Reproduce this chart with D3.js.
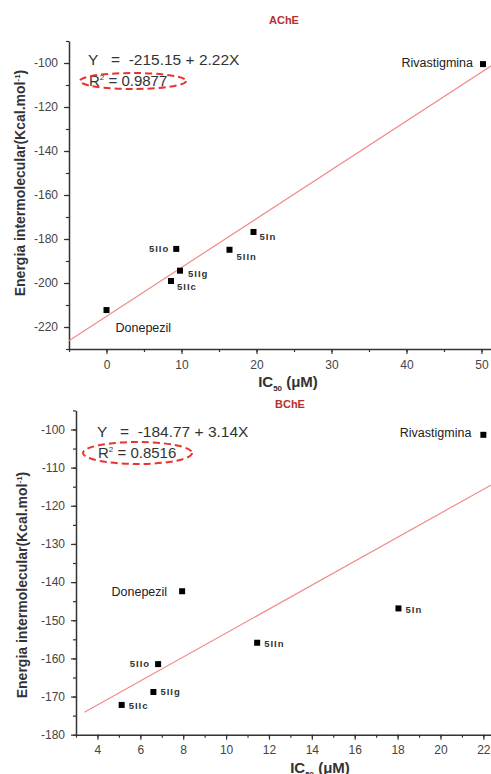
<!DOCTYPE html>
<html>
<head>
<meta charset="utf-8">
<style>
  body { margin: 0; background: #fff; }
  text { font-family: "Liberation Sans", Arial, sans-serif; }
</style>
</head>
<body>
<svg id="chart" width="491" height="774"></svg>

<script src="https://d3js.org/d3.v7.min.js"></script>
<script>
  // compounds, same order in both panels
  const names = ['Rivastigmina', 'Donepezil', '5IIo', '5IIn', '5In', '5IIg', '5IIc']

  // AChE panel
  const acheIC50 = [50.2, 0.0, 9.3, 16.4, 19.6, 9.8, 8.6]
  const acheEnergy = [-100.5, -212.3, -184.5, -184.9, -176.8, -194.4, -199.1]
  const acheFit = [-215.15, 2.22]   // intercept, slope
  const acheR2 = '0.9877'
  const acheXTicks = [0, 10, 20, 30, 40, 50]
  const acheYTicks = [-220, -200, -180, -160, -140, -120, -100]

  // BChE panel
  const bcheIC50 = [22.0, 7.95, 6.83, 11.45, 18.04, 6.61, 5.13]
  const bcheEnergy = [-101.4, -142.4, -161.5, -155.9, -146.9, -168.8, -172.2]
  const bcheFit = [-184.77, 3.14]
  const bcheR2 = '0.8516'
  const bcheXTicks = [4, 6, 8, 10, 12, 14, 16, 18, 20, 22]
  const bcheYTicks = [-180, -170, -160, -150, -140, -130, -120, -110, -100]

  const svg = d3.select('#chart')

  const panels = [
    {
      title: 'AChE', titleX: 284, titleY: 24,
      xs: acheIC50, ys: acheEnergy, fit: acheFit, r2: acheR2,
      xTicks: acheXTicks, yTicks: acheYTicks, xMinor: 5, yMinor: 10,
      xDomain: [-5, 52], xRange: [69, 496.5],
      yDomain: [-230, -90], yRange: [349, 41],
      fitFrom: -5,
      eqX: 88, eqY: 65, r2Y: 86, ell: [133, 81, 53, 8],
      xLabelX: 288, xLabelY: 387,
      yLabelX: 20, yLabelY: 183, yLabelLen: 229,
      // label placement per compound: [anchor, dx, dy]
      offs: [['end', -10, -1], ['start', 9, 18], ['end', -7, 0], ['start', 7, 7],
             ['start', 6, 5], ['start', 8, 3], ['start', 6, 6]]
    },
    {
      title: 'BChE', titleX: 290, titleY: 408,
      xs: bcheIC50, ys: bcheEnergy, fit: bcheFit, r2: bcheR2,
      xTicks: bcheXTicks, yTicks: bcheYTicks, xMinor: 1, yMinor: 5,
      xDomain: [3, 23], xRange: [76, 504.8],
      yDomain: [-180, -95], yRange: [734.7, 410.4],
      fitFrom: 3.39,
      eqX: 97, eqY: 437, r2Y: 458, ell: [137.5, 453, 54.5, 11],
      xLabelX: 320, xLabelY: 773,
      yLabelX: 22, yLabelY: 585, yLabelLen: 236,
      offs: [['end', -12, -2], ['end', -15, 0], ['end', -8, 0], ['start', 7, 1],
             ['start', 7, 1], ['start', 7, 0], ['start', 7, 1]]
    }
  ]

  panels.forEach(p => drawPanel(p))

  function drawPanel(p) {
    const x = d3.scaleLinear().domain(p.xDomain).range(p.xRange)
    const y = d3.scaleLinear().domain(p.yDomain).range(p.yRange)
    const g = svg.append('g')
    const plain = d => String(d)   // keep ascii hyphen for negatives

    // title
    g.append('text')
      .attr('x', p.titleX).attr('y', p.titleY)
      .attr('text-anchor', 'middle')
      .style('font-size', '11px').style('font-weight', 'bold')
      .style('fill', '#b5312f')
      .text(p.title)

    // minor ticks
    const xMinor = d3.range(p.xDomain[0], Math.min(p.xDomain[1], x.invert(491)) + 0.001, p.xMinor)
    const yMinor = d3.range(p.yDomain[0], p.yDomain[1] + 0.001, p.yMinor)

    g.append('g')
      .attr('transform', `translate(0,${p.yRange[0]})`)
      .call(d3.axisBottom(x).tickValues(xMinor).tickSize(3).tickFormat(''))
      .call(a => a.select('.domain').remove())
    g.append('g')
      .attr('transform', `translate(${p.xRange[0]},0)`)
      .call(d3.axisLeft(y).tickValues(yMinor).tickSize(3).tickFormat(''))
      .call(a => a.select('.domain').remove())

    // major axes
    g.append('g')
      .attr('transform', `translate(0,${p.yRange[0]})`)
      .call(d3.axisBottom(x).tickValues(p.xTicks).tickFormat(plain)
        .tickSize(5).tickSizeOuter(0).tickPadding(6))
    g.append('g')
      .attr('transform', `translate(${p.xRange[0]},0)`)
      .call(d3.axisLeft(y).tickValues(p.yTicks).tickFormat(plain)
        .tickSize(5).tickSizeOuter(0).tickPadding(6))

    g.selectAll('.domain').attr('stroke', '#333').attr('stroke-width', 1.5)
    g.selectAll('.tick line').attr('stroke', '#333').attr('stroke-width', 1.2)
    g.selectAll('.tick text')
      .style('font-size', '12px')
      .style('font-family', '"Liberation Sans", Arial, sans-serif')
      .attr('fill', '#444')

    // regression line
    const xEnd = p.xDomain[1]
    g.append('line')
      .attr('x1', x(p.fitFrom)).attr('y1', y(p.fit[0] + p.fit[1] * p.fitFrom))
      .attr('x2', x(xEnd)).attr('y2', y(p.fit[0] + p.fit[1] * xEnd))
      .attr('stroke', '#f28a8a').attr('stroke-width', 1.2)

    // points
    g.selectAll('rect.pt')
      .data(p.xs)
      .enter()
      .append('rect')
      .attr('class', 'pt')
      .attr('x', d => x(d) - 3)
      .attr('y', (d, i) => y(p.ys[i]) - 3)
      .attr('width', 6).attr('height', 6)
      .attr('fill', '#000')

    // point labels
    g.selectAll('text.lbl')
      .data(names)
      .enter()
      .append('text')
      .attr('class', 'lbl')
      .attr('x', (d, i) => x(p.xs[i]) + p.offs[i][1])
      .attr('y', (d, i) => y(p.ys[i]) + p.offs[i][2])
      .attr('dy', '0.35em')
      .attr('text-anchor', (d, i) => p.offs[i][0])
      .style('font-size', (d, i) => i < 2 ? '12.5px' : '9.5px')
      .style('font-weight', (d, i) => i < 2 ? 'normal' : 'bold')
      .style('letter-spacing', (d, i) => i < 2 ? '0' : '1px')
      .style('fill', (d, i) => i < 2 ? '#222' : '#333')
      .text(d => d)

    // equation
    const sign = p.fit[1] >= 0 ? '+' : '-'
    g.append('text')
      .attr('x', p.eqX).attr('y', p.eqY)
      .attr('xml:space', 'preserve')
      .style('white-space', 'pre')
      .style('font-size', '15.5px').style('fill', '#333')
      .text(`Y   =  ${p.fit[0].toFixed(2)} ${sign} ${Math.abs(p.fit[1]).toFixed(2)}X`)

    const r2 = g.append('text')
      .attr('x', p.eqX + 1).attr('y', p.r2Y)
      .style('font-size', '15px').style('fill', '#333')
    r2.append('tspan').text('R')
    r2.append('tspan').attr('dy', -6).style('font-size', '8px').text('2')
    r2.append('tspan').attr('dy', 6).text(` = ${p.r2}`)

    g.append('ellipse')
      .attr('cx', p.ell[0]).attr('cy', p.ell[1])
      .attr('rx', p.ell[2]).attr('ry', p.ell[3])
      .attr('fill', 'none')
      .attr('stroke', '#e8332f').attr('stroke-width', 2)
      .attr('stroke-dasharray', '7,4')

    // axis labels
    const xl = g.append('text')
      .attr('x', p.xLabelX).attr('y', p.xLabelY)
      .attr('text-anchor', 'middle')
      .style('font-size', '15px').style('font-weight', 'bold').style('fill', '#333')
    xl.append('tspan').text('IC')
    xl.append('tspan').attr('dy', 4).style('font-size', '8px').text('50')
    xl.append('tspan').attr('dy', -4).text(' (μM)')

    const yl = g.append('text')
      .attr('transform', `translate(${p.yLabelX},${p.yLabelY}) rotate(-90)`)
      .attr('text-anchor', 'middle')
      .attr('dy', '0.35em')
      .style('font-size', '14px').style('font-weight', 'bold').style('fill', '#333')
    yl.append('tspan').text('Energia intermolecular(Kcal.mol')
    yl.append('tspan').attr('dy', -5).style('font-size', '8px').text('-1')
    yl.append('tspan').attr('dy', 5).text(')')
  }
</script>
</body>
</html>
